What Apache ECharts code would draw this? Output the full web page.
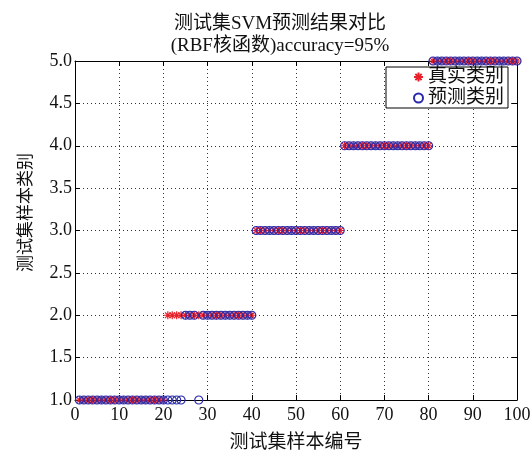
<!DOCTYPE html>
<html>
<head>
<meta charset="utf-8">
<script src="https://cdn.jsdelivr.net/npm/echarts@6/dist/echarts.min.js"></script>
<style>html,body{margin:0;padding:0;background:#fff;}#c{width:532px;height:452px;}</style>
</head>
<body>
<div id="c"></div>
<script>
var titleLines = ['测试集SVM预测结果对比', '(RBF核函数)accuracy=95%'];
var xName = '测试集样本编号';
var yName = '测试集样本类别';
var seriesNames = ['真实类别', '预测类别'];
var sampleIdx = [1,2,3,4,5,6,7,8,9,10,11,12,13,14,15,16,17,18,19,20,21,22,23,24,25,26,27,28,29,30,31,32,33,34,35,36,37,38,39,40,41,42,43,44,45,46,47,48,49,50,51,52,53,54,55,56,57,58,59,60,61,62,63,64,65,66,67,68,69,70,71,72,73,74,75,76,77,78,79,80,81,82,83,84,85,86,87,88,89,90,91,92,93,94,95,96,97,98,99,100];
var trueLabels = [1,1,1,1,1,1,1,1,1,1,1,1,1,1,1,1,1,1,1,1,2,2,2,2,2,2,2,2,2,2,2,2,2,2,2,2,2,2,2,2,3,3,3,3,3,3,3,3,3,3,3,3,3,3,3,3,3,3,3,3,4,4,4,4,4,4,4,4,4,4,4,4,4,4,4,4,4,4,4,4,5,5,5,5,5,5,5,5,5,5,5,5,5,5,5,5,5,5,5,5];
var predLabels = [1,1,1,1,1,1,1,1,1,1,1,1,1,1,1,1,1,1,1,1,1,1,1,1,2,2,2,1,2,2,2,2,2,2,2,2,2,2,2,2,3,3,3,3,3,3,3,3,3,3,3,3,3,3,3,3,3,3,3,3,4,4,4,4,4,4,4,4,4,4,4,4,4,4,4,4,4,4,4,4,5,5,5,5,5,5,5,5,5,5,5,5,5,5,5,5,5,5,5,5];

function pairs(ys){ return sampleIdx.map(function(x,i){ return [x, ys[i]]; }); }

var asterisk = 'path://M0,-10L0,10M-10,0L10,0M-7,-7L7,7M-7,7L7,-7';
var serif = '"Liberation Serif","Noto Sans CJK SC",serif';

var chart = echarts.init(document.getElementById('c'), null, {renderer:'canvas'});
var gridLine = {show:true, lineStyle:{color:'#333', type:[1,3], width:1}};
chart.setOption({
  backgroundColor:'#fff',
  animation:false,
  title:{
    text: titleLines.join('\n'),
    left: 275, top: 8, textAlign:'center',
    textStyle:{fontFamily:serif, fontSize:19, fontWeight:'normal', color:'#111', lineHeight:22}
  },
  legend:{
    orient:'vertical', left:386, top:67, width:126,
    data:[{name:seriesNames[0], icon:asterisk}, {name:seriesNames[1], icon:'circle'}],
    itemWidth:9, itemHeight:9, itemGap:1,
    padding:[0,4,0,27],
    backgroundColor:'#fff', borderColor:'#000', borderWidth:1,
    textStyle:{fontFamily:serif, fontSize:19, color:'#111', lineHeight:20}
  },
  grid:{left:75, top:61, right:15, bottom:52, show:false, containLabel:false, outerBoundsMode:'none'},
  xAxis:[{
    type:'value', min:0, max:100, interval:10,
    name:xName, nameLocation:'middle', nameGap:34,
    nameTextStyle:{fontFamily:serif, fontSize:19, color:'#111'},
    axisLine:{show:true, lineStyle:{color:'#000', width:1}},
    axisTick:{show:true, inside:true, length:5, lineStyle:{color:'#000'}},
    axisLabel:{fontFamily:serif, fontSize:18, color:'#111', margin:6},
    splitLine:gridLine
  },{
    type:'value', min:0, max:100, interval:10, position:'top',
    axisLine:{show:true, onZero:false, lineStyle:{color:'#000', width:1}},
    axisTick:{show:true, inside:true, length:5, lineStyle:{color:'#000'}},
    axisLabel:{show:false}, splitLine:{show:false}
  }],
  yAxis:[{
    type:'value', min:1, max:5, interval:0.5,
    name:yName, nameLocation:'middle', nameGap:40, nameRotate:90,
    nameTextStyle:{fontFamily:serif, fontSize:17, color:'#111', padding:[0,0,0,36]},
    axisLine:{show:true, onZero:false, lineStyle:{color:'#000', width:1}},
    axisTick:{show:true, inside:true, length:5, lineStyle:{color:'#000'}},
    axisLabel:{fontFamily:serif, fontSize:18, color:'#111', margin:3, formatter:function(v){return v.toFixed(1);}},
    splitLine:gridLine
  },{
    type:'value', min:1, max:5, interval:0.5, position:'right',
    axisLine:{show:true, onZero:false, lineStyle:{color:'#000', width:1}},
    axisTick:{show:true, inside:true, length:5, lineStyle:{color:'#000'}},
    axisLabel:{show:false}, splitLine:{show:false}
  }],
  series:[{
    name:seriesNames[0], type:'scatter', data:pairs(trueLabels),
    symbol:asterisk, symbolSize:8, clip:false,
    itemStyle:{color:'#e8202a', borderColor:'#e8202a', borderWidth:1.2, opacity:1},
    z:2
  },{
    name:seriesNames[1], type:'scatter', data:pairs(predLabels),
    symbol:'circle', symbolSize:8, clip:false,
    itemStyle:{color:'rgba(0,0,0,0)', borderColor:'#2a2aa8', borderWidth:1.2, opacity:1},
    z:3
  }]
});
</script>
</body>
</html>
